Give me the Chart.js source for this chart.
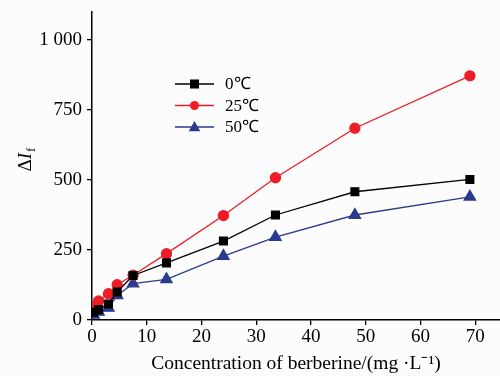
<!DOCTYPE html>
<html>
<head>
<meta charset="utf-8">
<script src="https://cdn.jsdelivr.net/npm/chart.js@4/dist/chart.umd.min.js"></script>
<style>
  body { margin: 0; background: #fcfcfc; }
  canvas { display: block; }
</style>
</head>
<body>
<canvas id="chart" width="500" height="376"></canvas>
<script>
// concentration of berberine (mg/L)
var conc = [0.3, 1.2, 3.0, 4.6, 7.5, 13.6, 24, 33.5, 48, 69];
var temps = ['0℃', '25℃', '50℃'];
var dI_0 = [28, 37, 57, 100, 159, 204, 282, 375, 458, 502];
var dI_25 = [47, 68, 94, 126, 160, 237, 373, 508, 685, 872];
var dI_50 = [18, 29, 43, 88, 130, 145, 228, 296, 375, 440];
var yTicks = [0, 250, 500, 750, 1000];

var serif = '"Liberation Serif", "Times New Roman", serif';

function pts(ys) {
    return conc.map(function (x, i) { return { x: x, y: ys[i] }; });
}

function marker(ctx, style, x, y, r) {
    ctx.beginPath();
    if (style === 'rect') {
        ctx.rect(x - r, y - r, 2 * r, 2 * r);
    } else if (style === 'circle') {
        ctx.arc(x, y, r, 0, Math.PI * 2);
    } else {
        ctx.moveTo(x, y - r * 1.1);
        ctx.lineTo(x + r * 1.05, y + r * 0.75);
        ctx.lineTo(x - r * 1.05, y + r * 0.75);
        ctx.closePath();
    }
    ctx.fill();
}

// x axis runs right up to the canvas edge, y axis starts near the top
var stretch = {
    id: 'stretch',
    afterLayout: function (chart) {
        var x = chart.scales.x, y = chart.scales.y, area = chart.chartArea;
        x.right = chart.width;
        x.width = x.right - x.left;
        x.configure();
        y.top = 12;
        y.height = y.bottom - y.top;
        y.configure();
        area.right = chart.width;
        area.width = area.right - area.left;
        area.top = 12;
        area.height = area.bottom - area.top;
    }
};

// legend inside the plot + y title with subscript
var extras = {
    id: 'extras',
    afterDraw: function (chart) {
        var ctx = chart.ctx;
        ctx.save();
        chart.data.datasets.forEach(function (ds, i) {
            var y = 84 + i * 21.5;
            ctx.strokeStyle = ds.borderColor;
            ctx.fillStyle = ds.backgroundColor;
            ctx.lineWidth = 1.3;
            ctx.beginPath();
            ctx.moveTo(175, y);
            ctx.lineTo(214, y);
            ctx.stroke();
            marker(ctx, ds.pointStyle, 194.5, y, ds.pointStyle === 'triangle' ? 5.5 : 4.5);
            ctx.fillStyle = '#000';
            ctx.font = '17px ' + serif;
            ctx.textBaseline = 'middle';
            ctx.textAlign = 'left';
            ctx.fillText(ds.label, 225, y + 1);
        });

        ctx.translate(26, 160);
        ctx.rotate(-Math.PI / 2);
        ctx.fillStyle = '#000';
        ctx.textBaseline = 'middle';
        ctx.textAlign = 'left';
        ctx.font = '19px ' + serif;
        var w1 = ctx.measureText('Δ').width;
        ctx.font = 'italic 19px ' + serif;
        var w2 = ctx.measureText('I').width;
        ctx.font = '13px ' + serif;
        var w3 = ctx.measureText('f').width;
        var x0 = -(w1 + w2 + w3) / 2;
        ctx.font = '19px ' + serif;
        ctx.fillText('Δ', x0, 0);
        ctx.font = 'italic 19px ' + serif;
        ctx.fillText('I', x0 + w1, 0);
        ctx.font = '13px ' + serif;
        ctx.fillText('f', x0 + w1 + w2 + 1, 6);
        ctx.restore();
    }
};

new Chart(document.getElementById('chart'), {
    type: 'line',
    data: {
        datasets: [
            { label: temps[0], data: pts(dI_0), borderColor: '#000000', backgroundColor: '#000000',
              pointStyle: 'rect', pointRadius: 5.5, borderWidth: 1.3 },
            { label: temps[1], data: pts(dI_25), borderColor: '#ee1c25', backgroundColor: '#ee1c25',
              pointStyle: 'circle', pointRadius: 5, borderWidth: 1.3 },
            { label: temps[2], data: pts(dI_50), borderColor: '#2b3990', backgroundColor: '#2b3990',
              pointStyle: 'triangle', pointRadius: 6.5, borderWidth: 1.3 }
        ]
    },
    options: {
        responsive: false,
        animation: false,
        devicePixelRatio: 1,
        layout: { padding: { top: 7, right: 0, left: 0, bottom: 0 } },
        plugins: { legend: { display: false }, tooltip: { enabled: false } },
        elements: { line: { tension: 0 }, point: { borderWidth: 0 } },
        scales: {
            x: {
                type: 'linear',
                min: 0,
                max: 74.5,
                afterFit: function (s) { s.height = 56; },
                ticks: {
                    stepSize: 10,
                    includeBounds: false,
                    color: '#000',
                    font: { family: serif, size: 19 },
                    padding: 1,
                    maxRotation: 0
                },
                grid: { drawOnChartArea: false, drawTicks: true, tickLength: 5, color: '#000', lineWidth: 1.3 },
                border: { color: '#000', width: 1.5 },
                title: {
                    display: true,
                    text: 'Concentration of berberine/(mg ·L⁻¹)',
                    color: '#000',
                    font: { family: serif, size: 19.5 },
                    padding: { top: 0, bottom: 0 }
                }
            },
            y: {
                min: 0,
                max: 1100,
                afterFit: function (s) { s.width = 92; },
                afterBuildTicks: function (s) { s.ticks = yTicks.map(function (v) { return { value: v }; }); },
                ticks: {
                    color: '#000',
                    font: { family: serif, size: 19 },
                    padding: 5,
                    callback: function (v) { return v >= 1000 ? '1 ' + String(v).slice(1) : v; }
                },
                grid: { drawOnChartArea: false, drawTicks: true, tickLength: 5, color: '#000', lineWidth: 1.3 },
                border: { color: '#000', width: 1.5 }
            }
        }
    },
    plugins: [stretch, extras]
});
</script>
</body>
</html>
